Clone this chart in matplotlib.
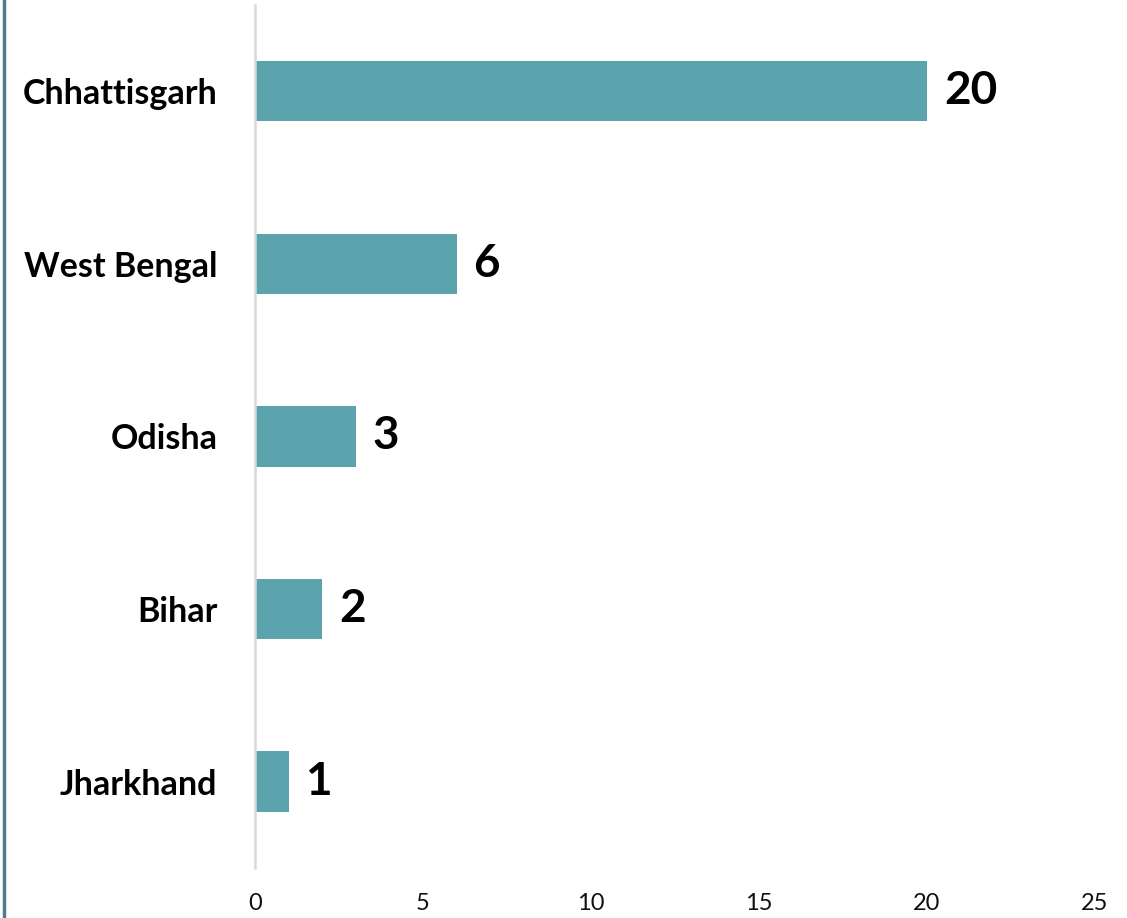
import matplotlib.pyplot as plt
from matplotlib.lines import Line2D

# 数据
states = ['Chhattisgarh', 'West Bengal', 'Odisha', 'Bihar', 'Jharkhand']
counts = [20, 6, 3, 2, 1]
x_ticks = [0, 5, 10, 15, 20, 25]

plt.rcParams['font.family'] = ['Lato', 'DejaVu Sans']

fig = plt.figure(figsize=(11.27, 9.18), dpi=100)
ax = fig.add_axes([0.2263, 0.0545, 0.7453, 0.9401])

ypos = list(range(len(states)))[::-1]
bars = ax.barh(ypos, counts, height=0.35, color='#5BA3AD')

ax.set_xlim(0, 25)
ax.set_ylim(-0.5, 4.5)
ax.set_xticks(x_ticks)
ax.set_xticklabels([str(v) for v in x_ticks], fontsize=17, color='#111111')
ax.set_yticks(ypos)
ax.set_yticklabels(states, fontsize=24.5, fontweight='bold')
ax.tick_params(axis='x', length=0, pad=18)
ax.tick_params(axis='y', length=0, pad=27)

for s in ['top', 'right', 'bottom']:
    ax.spines[s].set_visible(False)
ax.spines['left'].set_color('#d9d9d9')
ax.spines['left'].set_linewidth(1.8)

# 数值标签
for y, v in zip(ypos, counts):
    ax.text(v + 0.5, y, str(v), va='center', ha='left',
            fontsize=33, fontweight='bold', color='black')

# 左侧边框线
fig.add_artist(Line2D([0.0035, 0.0035], [0, 1], transform=fig.transFigure,
                      color='#4a7f8a', linewidth=2.5))

fig.savefig('out.png', dpi=100)
